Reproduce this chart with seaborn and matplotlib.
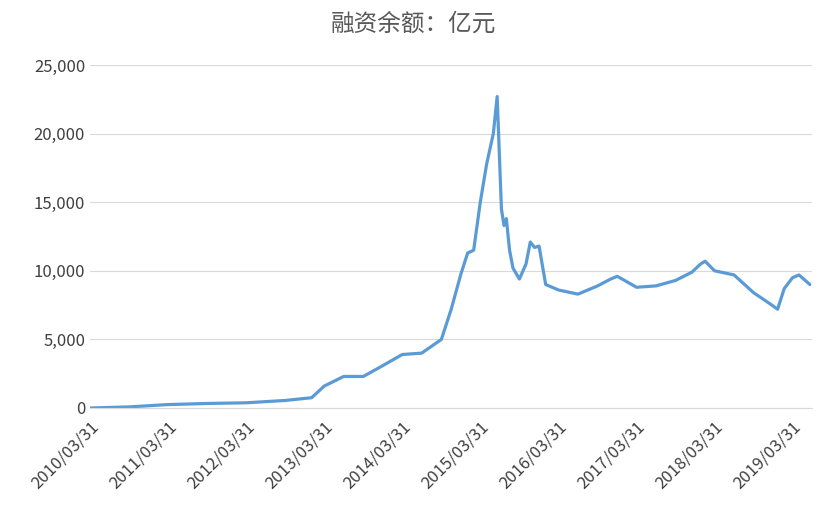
import numpy as np
import pandas as pd
import matplotlib.pyplot as plt
import matplotlib.ticker as mticker
import seaborn as sns

dates = ["2010-03-31", "2010-09-30", "2011-03-31", "2011-09-30", "2012-03-31", "2012-09-30",
         "2013-01-31", "2013-03-31", "2013-06-30", "2013-09-30", "2013-12-31", "2014-03-31",
         "2014-06-30", "2014-09-30", "2014-11-15", "2014-12-31", "2015-01-31", "2015-02-28",
         "2015-03-31", "2015-04-30", "2015-05-31", "2015-06-18", "2015-07-08", "2015-07-20",
         "2015-07-31", "2015-08-15", "2015-08-31", "2015-09-30", "2015-10-31", "2015-11-20",
         "2015-12-10", "2015-12-31", "2016-01-31", "2016-03-31", "2016-06-30", "2016-09-30",
         "2016-11-30", "2016-12-31", "2017-03-31", "2017-06-30", "2017-09-30", "2017-12-15",
         "2018-01-25", "2018-02-15", "2018-03-31", "2018-06-30", "2018-09-30", "2018-12-15",
         "2019-01-20", "2019-02-20", "2019-03-31", "2019-04-30", "2019-06-20"]
balance = [0, 80, 250, 330, 380, 550,
           750, 1600, 2300, 2300, 3100, 3900,
           4000, 5000, 7200, 9800, 11300, 11500,
           15000, 17800, 20000, 22700, 14500, 13300,
           13800, 11500, 10200, 9400, 10500, 12100,
           11700, 11800, 9000, 8600, 8300, 8900,
           9400, 9600, 8800, 8900, 9300, 9900,
           10500, 10700, 10000, 9700, 8400, 7600,
           7200, 8700, 9500, 9700, 9000]
tick_dates = ["%d-03-31" % y for y in range(2010, 2020)]
tick_labels = ["%d/03/31" % y for y in range(2010, 2020)]

df = pd.DataFrame({"date": pd.to_datetime(dates), "balance": balance})

sns.set_style("white")
plt.rcParams['font.family'] = ['Noto Sans CJK SC', 'DejaVu Sans']

fig = plt.figure(figsize=(8.27, 5.15), dpi=100)
ax = fig.add_axes([90 / 827, 1 - 408 / 515, 722 / 827, 343 / 515])
sns.lineplot(data=df, x="date", y="balance", ax=ax, color="#5B9BD5", linewidth=2.3)

ax.set_ylim(0, 25000)
ax.set_xlim(pd.Timestamp("2010-03-31"), pd.Timestamp("2019-06-30"))
ax.set_yticks(np.arange(0, 25001, 5000))
ax.yaxis.set_major_formatter(mticker.StrMethodFormatter("{x:,.0f}"))
ax.set_xticks(pd.to_datetime(tick_dates))
ax.set_xticklabels(tick_labels, rotation=45, ha="right", rotation_mode="anchor")
ax.tick_params(axis="both", labelsize=12, colors="#404040", length=0)
ax.tick_params(axis="x", length=4, color="#D9D9D9")
ax.grid(axis="y", color="#D9D9D9", linewidth=0.8)
ax.set_xlabel("")
ax.set_ylabel("")
for s in ["top", "right", "left"]:
    ax.spines[s].set_visible(False)
ax.spines["bottom"].set_color("#D9D9D9")
fig.suptitle("融资余额：亿元", y=0.975, fontsize=17, color="#595959")
fig.savefig("out.png", dpi=100)
